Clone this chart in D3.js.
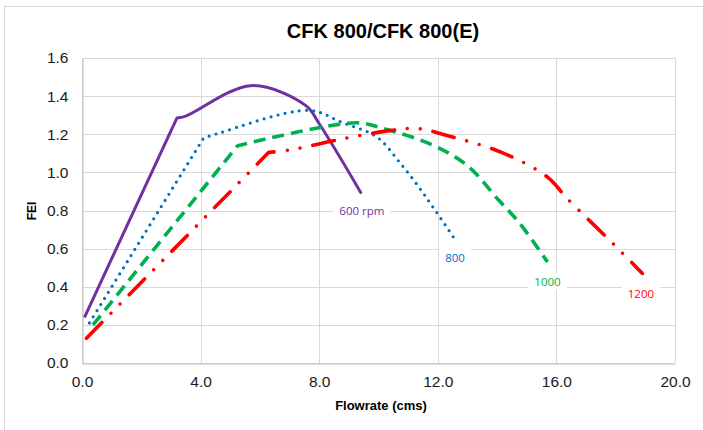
<!DOCTYPE html>
<html><head><meta charset="utf-8">
<script src="https://cdn.jsdelivr.net/npm/d3@7"></script>
<style>html,body{margin:0;padding:0;background:#fff;}svg{display:block;}</style>
</head><body>
<script>
const title = "CFK 800/CFK 800(E)";
const xTicks = [0, 4, 8, 12, 16, 20];
const yTicks = [0, 0.2, 0.4, 0.6, 0.8, 1.0, 1.2, 1.4, 1.6];

const s600x = [0.1, 3.2, 3.5, 5.7, 7.55, 8.0, 9.4];
const s600y = [0.245, 1.285, 1.295, 1.455, 1.35, 1.255, 0.895];

const s800x = [0.25, 4.1, 4.6, 7.65, 8.8, 9.95, 10.7, 11.35, 11.85, 12.55];
const s800y = [0.21, 1.18, 1.205, 1.325, 1.26, 1.185, 1.055, 0.925, 0.815, 0.655];

const s1000x = [0.37, 5.25, 9.25, 10.15, 11.8, 13.0, 14.05, 14.75, 15.7];
const s1000y = [0.2, 1.14, 1.26, 1.23, 1.145, 1.035, 0.855, 0.735, 0.53];

const s1200x = [0.15, 6.3, 7.1, 8.6, 10.2, 11.3, 12.5, 14.15, 15.7, 16.35, 17.95, 18.9];
const s1200y = [0.13, 1.105, 1.12, 1.17, 1.215, 1.23, 1.185, 1.105, 0.975, 0.865, 0.62, 0.47];

const seriesNames = ["600 rpm", "800", "1000", "1200"];
const labelX = [9.44, 12.58, 15.7, 18.85];
const labelY = [0.80, 0.556, 0.43, 0.367];

const W = 703, H = 430;
const m = {left: 82, right: 703 - 675, top: 58, bottom: 430 - 363};

const svg = d3.select("body").append("svg").attr("width", W).attr("height", H);
svg.append("rect").attr("x", 4.5).attr("y", 6.5).attr("width", 710).attr("height", 440)
  .attr("fill", "#fff").attr("stroke", "#d9d9d9").attr("stroke-width", 1);

const x = d3.scaleLinear().domain([0, 20]).range([m.left, W - m.right]);
const y = d3.scaleLinear().domain([0, 1.6]).range([H - m.bottom, m.top]);

// gridlines
const g = svg.append("g");
g.selectAll("line.h").data(yTicks).join("line")
  .attr("x1", x(0)).attr("x2", x(20))
  .attr("y1", d => Math.round(y(d)) + 0.5).attr("y2", d => Math.round(y(d)) + 0.5)
  .attr("stroke", "#d9d9d9").attr("stroke-width", 1);
g.selectAll("line.v").data(xTicks).join("line")
  .attr("y1", y(0)).attr("y2", y(1.6))
  .attr("x1", d => Math.round(x(d)) + 0.5).attr("x2", d => Math.round(x(d)) + 0.5)
  .attr("stroke", "#d9d9d9").attr("stroke-width", 1);

// axes
const xAxis = svg.append("g").attr("transform", `translate(0,${Math.round(y(0)) + 0.5})`)
  .call(d3.axisBottom(x).tickValues(xTicks).tickFormat(d3.format(".1f")).tickSize(0).tickPadding(12));
const yAxis = svg.append("g").attr("transform", `translate(${Math.round(x(0)) + 0.5},0)`)
  .call(d3.axisLeft(y).tickValues(yTicks).tickFormat(d3.format(".1f")).tickSize(0).tickPadding(14));
[xAxis, yAxis].forEach(a => {
  a.select(".domain").attr("stroke", "#bfbfbf").attr("stroke-width", 1);
  a.selectAll("text").attr("font-family", "Liberation Sans, Arial, sans-serif")
    .attr("font-size", 15.5).attr("fill", "#1a1a1a");
});

// series
const series = [
  {xs: s600x, ys: s600y, color: "#7030A0", width: 3, dash: null, cap: "round"},
  {xs: s800x, ys: s800y, color: "#0070C0", width: 3.2, dash: "0 7.2", cap: "round"},
  {xs: s1000x, ys: s1000y, color: "#00B050", width: 3.6, dash: "12 7", cap: "butt"},
  {xs: s1200x, ys: s1200y, color: "#FF0000", width: 3.6, dash: "22 13 0 13 0 13", cap: "round"}
];
const smooth = d3.line().x(d => x(d[0])).y(d => y(d[1])).curve(d3.curveCatmullRom.alpha(0.5));
series.forEach(s => {
  const pts = s.xs.map((v, i) => [v, s.ys[i]]);
  // straight rising segment, then a smoothed remainder (single continuous path)
  const rest = smooth(pts.slice(1));
  const d = `M${x(pts[0][0])},${y(pts[0][1])}L` + rest.slice(1);
  const p = svg.append("path").attr("d", d)
    .attr("fill", "none").attr("stroke", s.color).attr("stroke-width", s.width)
    .attr("stroke-linecap", s.cap).attr("stroke-linejoin", "round");
  if (s.dash) p.attr("stroke-dasharray", s.dash);
});

// labels
seriesNames.forEach((name, i) => {
  const lg = svg.append("g");
  const t = lg.append("text").attr("x", x(labelX[i])).attr("y", y(labelY[i]))
    .attr("text-anchor", "middle").attr("dominant-baseline", "central")
    .attr("font-family", "Open Sans, sans-serif").attr("font-size", 11.5)
    .attr("fill", series[i].color).text(name);
  const bb = t.node().getBBox();
  lg.insert("rect", "text").attr("x", bb.x - 6).attr("y", bb.y - 1)
    .attr("width", bb.width + 12).attr("height", bb.height + 2).attr("fill", "#fff");
});

// title
svg.append("text").attr("x", 383).attr("y", 38).attr("text-anchor", "middle")
  .attr("font-family", "Liberation Sans, Arial, sans-serif").attr("font-weight", "bold")
  .attr("font-size", 20).attr("fill", "#000").text(title);

svg.append("text").attr("x", 381).attr("y", 410).attr("text-anchor", "middle")
  .attr("font-family", "Liberation Sans, Arial, sans-serif").attr("font-weight", "bold")
  .attr("font-size", 13).attr("fill", "#000").text("Flowrate (cms)");

svg.append("text").attr("transform", "translate(36,211) rotate(-90)").attr("text-anchor", "middle")
  .attr("font-family", "Liberation Sans, Arial, sans-serif").attr("font-weight", "bold")
  .attr("font-size", 12).attr("fill", "#000").text("FEI");
</script>
</body></html>
